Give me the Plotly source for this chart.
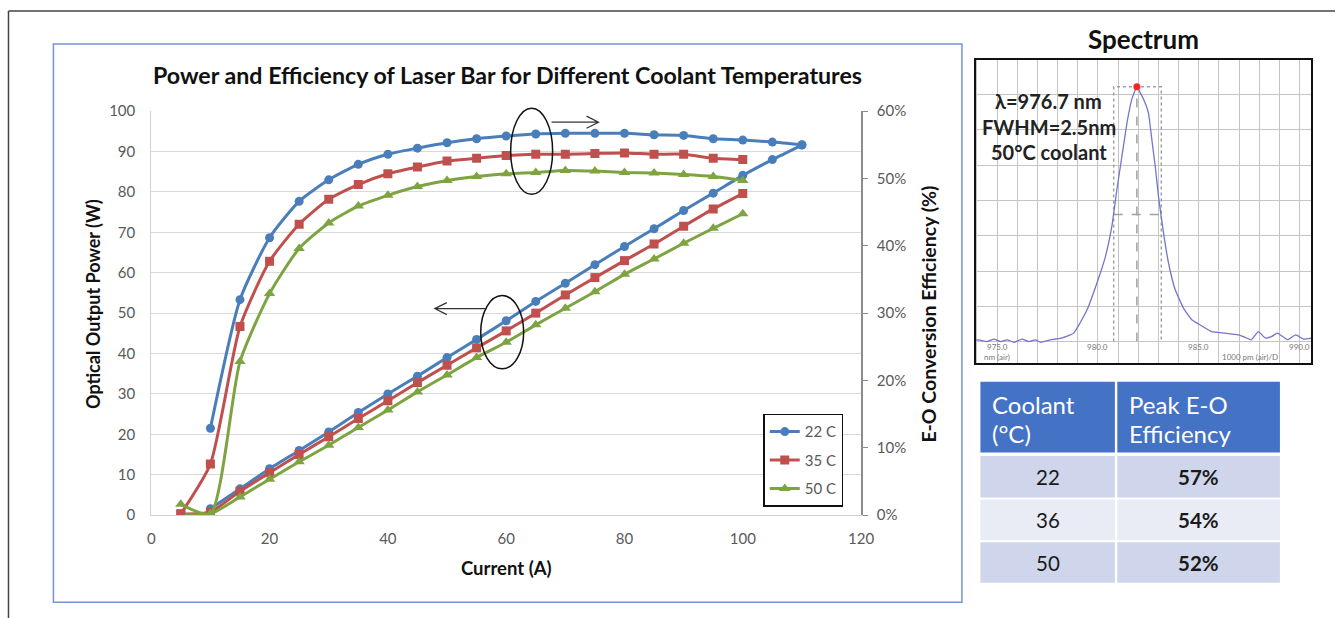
import plotly.graph_objects as go

# Page geometry: positions below are given in page pixels and mapped to paper fractions.
PAGE_W, PAGE_H = 1337, 618
SX, OX = 0.989, 3.5
SY, OY = 0.969, 9.1
W = round((PAGE_W - OX) / SX)
H = round((PAGE_H - OY) / SY)
FONT = "Lato"

# ---------------- main chart data ----------------
current_22 = [10, 15, 20, 25, 30, 35, 40, 45, 50, 55, 60, 65, 70, 75, 80, 85, 90, 95, 100, 105, 110]
power_22 = [1.6, 6.5, 11.5, 16.0, 20.6, 25.4, 30.0, 34.4, 39.0, 43.5, 48.1, 52.9, 57.4, 62.0, 66.5,
            70.9, 75.4, 79.7, 84.1, 88.0, 91.6]
eff_22 = [12.9, 32.0, 41.2, 46.6, 49.8, 52.1, 53.6, 54.5, 55.3, 55.9, 56.3, 56.6, 56.7, 56.7, 56.7,
          56.5, 56.4, 55.9, 55.7, 55.4, 55.0]

current_35 = [5, 10, 15, 20, 25, 30, 35, 40, 45, 50, 55, 60, 65, 70, 75, 80, 85, 90, 95, 100]
power_35 = [0.3, 0.8, 5.9, 10.5, 15.0, 19.4, 23.9, 28.3, 32.8, 37.1, 41.4, 45.6, 50.0, 54.5, 58.8,
            63.0, 67.1, 71.5, 75.8, 79.6]
eff_35 = [0.2, 7.6, 28.0, 37.7, 43.2, 46.9, 49.1, 50.7, 51.7, 52.6, 53.0, 53.4, 53.6, 53.6, 53.7,
          53.8, 53.6, 53.6, 53.0, 52.8]

current_50 = [5, 10, 15, 20, 25, 30, 35, 40, 45, 50, 55, 60, 65, 70, 75, 80, 85, 90, 95, 100]
power_50 = [0.1, 0.3, 4.5, 8.9, 13.2, 17.3, 21.7, 26.0, 30.5, 34.7, 39.0, 42.8, 47.1, 51.2, 55.3,
            59.6, 63.4, 67.3, 71.0, 74.6]
eff_50 = [1.6, 0.2, 22.8, 32.9, 39.6, 43.4, 45.9, 47.5, 48.8, 49.7, 50.3, 50.7, 50.9, 51.2, 51.1,
          50.9, 50.8, 50.6, 50.3, 49.7]

series_names = ["22 C", "35 C", "50 C"]
power_ticks = list(range(0, 101, 10))
eff_ticks = list(range(0, 61, 10))
current_ticks = list(range(0, 121, 20))

# ---------------- spectrum data ----------------
spec_nm = [973.95, 974.09, 974.5, 974.84, 975.17, 975.5, 975.83, 976.24, 976.57, 976.9, 977.15,
           977.64, 978.14, 978.63, 978.8, 978.96, 979.46, 979.95, 980.37, 980.69, 980.94, 981.19,
           981.44, 981.68, 981.93, 982.1, 982.26, 982.5, 982.67, 982.84, 983.0, 983.25, 983.5,
           983.83, 984.24, 984.65, 985.07, 985.64, 986.3, 986.96, 987.3, 987.6, 987.95, 988.3,
           988.6, 988.9, 989.4, 989.8, 990.2, 990.58]
spec_level = [0.04, 0.05, 0.0, 0.07, 0.0, 0.05, -0.02, 0.07, 0.0, 0.05, -0.02, 0.05, 0.09, 0.19,
              0.24, 0.38, 0.9, 1.66, 2.41, 3.27, 4.31, 5.26, 6.2, 6.87, 7.22, 7.05, 6.87, 6.49,
              5.73, 4.97, 4.12, 3.08, 2.22, 1.47, 0.95, 0.62, 0.47, 0.28, 0.24, 0.19, 0.12, 0.05,
              0.28, 0.1, 0.14, 0.24, 0.05, 0.19, 0.07, 0.1]
peak_nm, peak_level = 981.93, 7.22
fwhm_lo, fwhm_hi, half_level = 980.78, 983.14, 3.6
spec_tick_nm = [975.0, 980.0, 985.0, 990.0]
spec_notes = ["λ=976.7 nm", "FWHM=2.5nm", "50°C coolant"]

# ---------------- table data ----------------
table_header = [["Coolant", "(°C)"], ["Peak E-O", "Efficiency"]]
coolant_c = ["22", "36", "50"]
peak_eff = ["57%", "54%", "52%"]


def px(x):
    return (x - OX) / SX / W


def py(y):
    return 1 - (y - OY) / SY / H


colors = ["#4a7ebb", "#c0504d", "#7ea442"]
symbols = ["circle", "square", "triangle-up"]
sizes = [9, 9, 10]

fig = go.Figure()

groups = [
    (current_22, power_22, eff_22),
    (current_35, power_35, eff_35),
    (current_50, power_50, eff_50),
]
for i, (cur, pw, ef) in enumerate(groups):
    common = dict(
        mode="lines+markers",
        line=dict(color=colors[i], width=3, shape="spline", smoothing=0.6),
        marker=dict(symbol=symbols[i], size=sizes[i], color=colors[i]),
        legendgroup=series_names[i],
        name=series_names[i],
    )
    fig.add_trace(go.Scatter(x=cur, y=pw, xaxis="x", yaxis="y", showlegend=False, **common))
    fig.add_trace(go.Scatter(x=cur, y=ef, xaxis="x", yaxis="y2", showlegend=True, **common))

# spectrum trace and FWHM guide lines
guide = dict(color="#a0a0a0", width=1.5, dash="dot")
fig.add_trace(go.Scatter(x=[fwhm_lo, fwhm_lo, fwhm_hi, fwhm_hi], y=[0, peak_level, peak_level, 0],
                         mode="lines", line=guide, xaxis="x2", yaxis="y3", showlegend=False))
fig.add_trace(go.Scatter(x=[peak_nm, peak_nm], y=[0, peak_level], mode="lines",
                         line=dict(color="#a0a0a0", width=1.5, dash="dash"),
                         xaxis="x2", yaxis="y3", showlegend=False))
fig.add_trace(go.Scatter(x=[fwhm_lo, fwhm_hi], y=[half_level, half_level], mode="lines",
                         line=dict(color="#a0a0a0", width=1.5, dash="dash"),
                         xaxis="x2", yaxis="y3", showlegend=False))
fig.add_trace(go.Scatter(x=spec_nm, y=spec_level, mode="lines",
                         line=dict(color="#7474cc", width=1.3, shape="spline", smoothing=0.4),
                         xaxis="x2", yaxis="y3", showlegend=False))
fig.add_trace(go.Scatter(x=[peak_nm], y=[peak_level], mode="markers",
                         marker=dict(color="#ff2020", size=7),
                         xaxis="x2", yaxis="y3", showlegend=False))

grey = "#595959"
fig.update_layout(
    width=W, height=H,
    margin=dict(l=0, r=0, t=0, b=0),
    paper_bgcolor="white", plot_bgcolor="white",
    font=dict(family=FONT, color=grey),
    xaxis=dict(domain=[px(151), px(862)], range=[0, 120], tickvals=current_ticks,
               showgrid=False, zeroline=False, showline=True, linecolor="#d0d0d0", linewidth=1,
               ticks="", tickfont=dict(size=15, color=grey), ticklabelstandoff=10, anchor="y"),
    yaxis=dict(domain=[py(513), py(110)], range=[0, 100], tickvals=power_ticks,
               showgrid=True, gridcolor="#d9d9d9", gridwidth=1, zeroline=False,
               showline=True, linecolor="#d0d0d0", ticks="",
               tickfont=dict(size=15, color=grey), ticklabelstandoff=12, anchor="x"),
    yaxis2=dict(overlaying="y", side="right", anchor="x", range=[0, 60], tickvals=eff_ticks,
                ticktext=["%d%%" % v for v in eff_ticks],
                showgrid=False, zeroline=False, showline=True,
                linecolor="#8c8c8c", linewidth=1.5, ticks="outside", ticklen=5,
                tickcolor="#8c8c8c", tickfont=dict(size=15, color=grey), ticklabelstandoff=6),
    xaxis2=dict(domain=[px(977), px(1313)], range=[973.95, 990.58], dtick=1, tick0=975,
                showgrid=True, gridcolor="#c4c4c4", gridwidth=1, zeroline=False,
                showticklabels=False, showline=True, mirror=True, linecolor="#111",
                linewidth=2, anchor="y3"),
    yaxis3=dict(domain=[py(361), py(59)], range=[-0.6, 7.98], dtick=1, tick0=0,
                showgrid=True, gridcolor="#c4c4c4", gridwidth=1, zeroline=False,
                showticklabels=False, showline=True, mirror=True, linecolor="#111",
                linewidth=2, anchor="x2"),
    legend=dict(x=px(764), y=py(412), xanchor="left", yanchor="top",
                bgcolor="white", bordercolor="#111", borderwidth=1.5,
                font=dict(family=FONT, size=15, color=grey),
                traceorder="grouped", tracegroupgap=6, itemwidth=30),
    showlegend=True,
)

annotations = [
    dict(text="<b>Power and Efficiency of Laser Bar for Different Coolant Temperatures</b>",
         x=px(508), y=py(74), font=dict(size=23.2, color="#111")),
    dict(text="<b>Optical Output Power (W)</b>", x=px(92), y=py(302), textangle=-90,
         font=dict(size=18, color="#111")),
    dict(text="<b>E-O Conversion Efficiency (%)</b>", x=px(930), y=py(312), textangle=-90,
         font=dict(size=19.5, color="#111")),
    dict(text="<b>Current (A)</b>", x=px(507), y=py(566), font=dict(size=18.5, color="#111")),
    dict(text="<b>Spectrum</b>", x=px(1145), y=py(38), font=dict(size=26, color="#111")),
]
for k, note in enumerate(spec_notes):
    annotations.append(dict(text="<b>%s</b>" % note, x=px(1050), y=py(100 + 25.5 * k),
                            font=dict(size=20, color="#222")))
for a in annotations:
    a.update(xref="paper", yref="paper", showarrow=False, xanchor="center", yanchor="middle")

# wavelength tick labels inside the spectrum frame
for nm in spec_tick_nm:
    annotations.append(dict(text="%.1f" % nm, x=nm, y=-0.16, xref="x2", yref="y3",
                            showarrow=False, yanchor="middle", font=dict(size=8, color="#777")))
annotations.append(dict(text="nm (air)", x=975.0, y=-0.45, xref="x2", yref="y3",
                        showarrow=False, yanchor="middle", font=dict(size=8, color="#777")))
annotations.append(dict(text="1000 pm (air)/D", x=987.55, y=-0.45, xref="x2", yref="y3",
                        showarrow=False, yanchor="middle", font=dict(size=8, color="#777")))

# coolant table drawn from shapes and text
col_x = [(981.5, 1116.2), (1118.6, 1281.5)]
head_y = (380, 450.5)
row_y = [(454, 495.5), (497.5, 538), (540, 580.5)]
row_fill = ["#cfd5ea", "#e9ebf5", "#cfd5ea"]
shapes = []
for c, (x0, x1) in enumerate(col_x):
    shapes.append(dict(type="rect", xref="paper", yref="paper", x0=px(x0), x1=px(x1),
                       y0=py(head_y[1]), y1=py(head_y[0]), fillcolor="#4472c4", line_width=0,
                       layer="below"))
    for ln, txt in enumerate(table_header[c]):
        annotations.append(dict(text=txt, x=px(x0 + 10), y=py(403 + 29 * ln), xref="paper",
                                yref="paper", xanchor="left", yanchor="middle", showarrow=False,
                                font=dict(size=24, color="white")))
    for r, (y0, y1) in enumerate(row_y):
        shapes.append(dict(type="rect", xref="paper", yref="paper", x0=px(x0), x1=px(x1),
                           y0=py(y1), y1=py(y0), fillcolor=row_fill[r], line_width=0,
                           layer="below"))
for r, (y0, y1) in enumerate(row_y):
    yc = (y0 + y1) / 2 + 0.5
    annotations.append(dict(text=coolant_c[r], x=px(sum(col_x[0]) / 2), y=py(yc), xref="paper",
                            yref="paper", xanchor="center", yanchor="middle", showarrow=False,
                            font=dict(size=20.5, color="#1a1a1a")))
    annotations.append(dict(text="<b>%s</b>" % peak_eff[r], x=px(sum(col_x[1]) / 2), y=py(yc),
                            xref="paper", yref="paper", xanchor="center", yanchor="middle",
                            showarrow=False, font=dict(size=20.5, color="#1a1a1a")))

fig.update_layout(annotations=annotations)


def ellipse(x0, y0, x1, y1):
    return dict(type="circle", xref="paper", yref="paper", x0=px(x0), x1=px(x1),
                y0=py(y1), y1=py(y0), line=dict(color="#111", width=1.5))


def arrow(xs, xe, y, head=12, spread=6):
    d = -1 if xe < xs else 1
    path = "M %f,%f L %f,%f M %f,%f L %f,%f L %f,%f" % (
        px(xs), py(y), px(xe), py(y),
        px(xe - d * head), py(y - spread), px(xe), py(y), px(xe - d * head), py(y + spread))
    return dict(type="path", xref="paper", yref="paper", path=path,
                line=dict(color="#333", width=1.2))


shapes += [
    # outer frame (top and left edges)
    dict(type="line", xref="paper", yref="paper", x0=px(8), x1=1, y0=py(10), y1=py(10),
         line=dict(color="#444", width=1.5)),
    dict(type="line", xref="paper", yref="paper", x0=px(8), x1=px(8), y0=py(10), y1=0,
         line=dict(color="#444", width=1.5)),
    # chart frame
    dict(type="rect", xref="paper", yref="paper", x0=px(53), x1=px(963), y0=py(600), y1=py(43),
         line=dict(color="#7394d0", width=1.5)),
    ellipse(511, 107, 553, 193),
    ellipse(481, 294, 524, 367),
    arrow(552, 599, 121),
    arrow(487, 435, 307),
]
fig.update_layout(shapes=shapes)

fig.write_html("out.html")
